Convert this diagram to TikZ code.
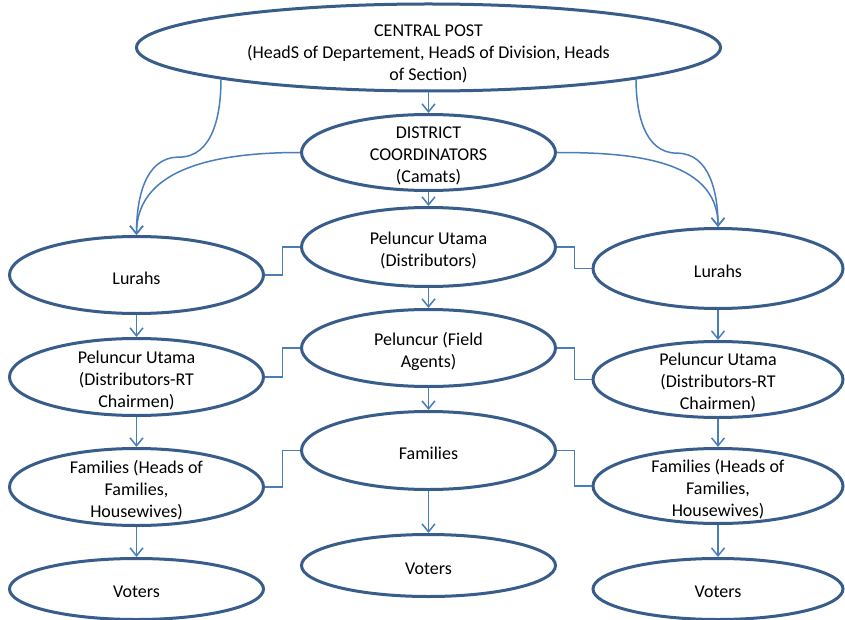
\documentclass[tikz,border=0pt]{standalone}
\usepackage{fontspec}
\setmainfont{Carlito}
\usetikzlibrary{shapes.geometric,arrows.meta,calc}
\definecolor{shapeblue}{RGB}{56,93,138}
\definecolor{linkblue}{RGB}{74,126,187}
\begin{document}
\begin{tikzpicture}[x=1pt,y=-1pt,
  oval/.style={ellipse,draw=shapeblue,line width=3pt,fill=white,inner sep=0pt,
    minimum width=254pt,minimum height=77pt},
  txt/.style={label={[align=center,font=\fontsize{18}{22}\selectfont,yshift=-3pt]center:#1}},
  link/.style={draw=linkblue,line width=1.5pt},
  arr/.style={link,-{Straight Barb[length=8pt,width=13pt]}}]
\useasboundingbox (0,0) rectangle (845,620);
\fill[white] (0,0) rectangle (845,620);
% centre column
\node[oval,minimum width=584pt,minimum height=87pt,
  label={[align=center,font=\fontsize{18}{22}\selectfont,yshift=-6pt]center:CENTRAL POST\\(HeadS of Departement, HeadS of Division, Heads\\of Section)}] (cp) at (428.5,47.5) {};
\node[oval,minimum height=76pt,txt={DISTRICT\\COORDINATORS\\(Camats)}] (dc) at (428.5,152.5) {};
\node[oval,minimum height=79pt,txt={Peluncur Utama\\(Distributors)}] (pu) at (428.5,247) {};
\node[oval,txt={Peluncur (Field\\Agents)}] (fa) at (428.5,348) {};
\node[oval,minimum height=78pt,txt={Families}] (fm) at (428.5,450.5) {};
\node[oval,minimum height=62pt,txt={Voters}] (vm) at (428.5,565.5) {};
% left column
\node[oval,txt={Lurahs}] (l1) at (136.5,275) {};
\node[oval,txt={Peluncur Utama\\(Distributors-RT\\Chairmen)}] (l2) at (136.5,377) {};
\node[oval,txt={Families (Heads of\\Families,\\Housewives)}] (l3) at (136.5,487) {};
\node[oval,minimum height=61pt,txt={Voters}] (l4) at (136.5,589) {};
% right column
\node[oval,minimum width=250pt,minimum height=80pt,txt={Lurahs}] (r1) at (718,268.5) {};
\node[oval,minimum width=250pt,minimum height=76pt,txt={Peluncur Utama\\(Distributors-RT\\Chairmen)}] (r2) at (718,379.5) {};
\node[oval,minimum width=250pt,minimum height=75pt,txt={Families (Heads of\\Families,\\Housewives)}] (r3) at (718,486) {};
\node[oval,minimum width=250pt,minimum height=61pt,txt={Voters}] (r4) at (718,589) {};
% straight arrows
\draw[arr] (cp.south) -- (dc.north);
\draw[arr] (dc.south) -- (pu.north);
\draw[arr] (pu.south) -- (fa.north);
\draw[arr] (fa.south) -- (fm.north);
\draw[arr] (fm.south) -- (vm.north);
\draw[arr] (l1.south) -- (l2.north);
\draw[arr] (l2.south) -- (l3.north);
\draw[arr] (l3.south) -- (l4.north);
\draw[arr] (r1.south) -- (r2.north);
\draw[arr] (r2.south) -- (r3.north);
\draw[arr] (r3.south) -- (r4.north);
% elbow links
\draw[link] (l1.east) -- ++(17.5,0) |- (pu.west);
\draw[link] (pu.east) -- ++(17.5,0) |- (r1.west);
\draw[link] (l2.east) -- ++(17.5,0) |- (fa.west);
\draw[link] (fa.east) -- ++(17.5,0) |- (r2.west);
\draw[link] (l3.east) -- ++(17.5,0) |- (fm.west);
\draw[link] (fm.east) -- ++(17.5,0) |- (r3.west);
% curved arrows
\coordinate (ml) at ($(cp.south west)!0.5!(l1.north)$);
\coordinate (mr) at ($(cp.south east)!0.5!(r1.north)$);
\draw[arr] (cp.south west) to[out=-90,in=0] (ml) to[out=180,in=90] (l1.north);
\draw[arr] (cp.south east) to[out=-90,in=180] (mr) to[out=0,in=90] (r1.north);
\draw[arr] (dc.west) to[out=180,in=90] (l1.north);
\draw[arr] (dc.east) to[out=0,in=90] (r1.north);
\end{tikzpicture}
\end{document}
